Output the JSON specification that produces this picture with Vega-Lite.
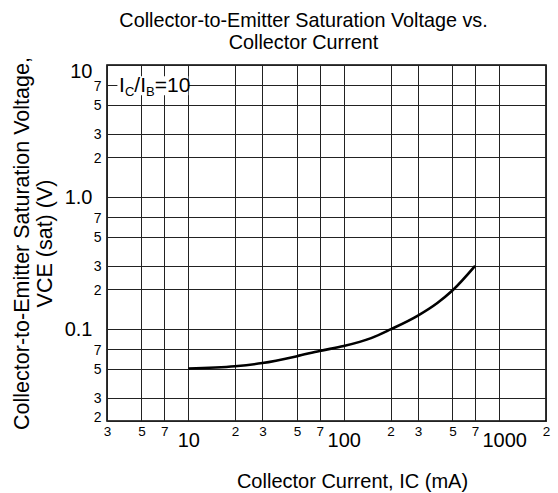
{
  "$schema": "https://vega.github.io/schema/vega-lite/v6.json",
  "autosize": {"type": "none"},
  "width": 439,
  "height": 356,
  "padding": {"left": 107, "top": 65, "right": 12, "bottom": 72},
  "background": "white",
  "title": {
    "text": ["Collector-to-Emitter Saturation Voltage vs.", "Collector Current"],
    "font": "Liberation Sans",
    "fontSize": 19.8,
    "fontWeight": "normal",
    "color": "#000",
    "lineHeight": 22,
    "baseline": "bottom",
    "offset": 11,
    "dx": -23,
    "dy": 27
  },
  "config": {
    "view": {"stroke": "#000", "strokeWidth": 1.6},
    "font": "Liberation Sans"
  },
  "datasets": {
    "curve": [
      {"ic": 10, "vce": 0.050},
      {"ic": 20, "vce": 0.052},
      {"ic": 30, "vce": 0.055},
      {"ic": 50, "vce": 0.062},
      {"ic": 70, "vce": 0.068},
      {"ic": 100, "vce": 0.074},
      {"ic": 150, "vce": 0.085},
      {"ic": 200, "vce": 0.099},
      {"ic": 300, "vce": 0.126},
      {"ic": 400, "vce": 0.157},
      {"ic": 500, "vce": 0.195},
      {"ic": 700, "vce": 0.30}
    ],
    "label": [{"ic": 3.58, "vce": 6.2}],
    "box": [{"ic1": 3.5, "ic2": 10, "v1": 5.9, "v2": 8.2}]
  },
  "layer": [
    {
      "data": {"name": "curve"},
      "mark": {"type": "line", "color": "#000", "strokeWidth": 2.6, "interpolate": "monotone", "clip": true},
      "encoding": {
        "x": {
          "field": "ic", "type": "quantitative",
          "scale": {"type": "log", "domain": [3, 2000], "nice": false},
          "axis": {
            "values": [3, 5, 7, 10, 20, 30, 50, 70, 100, 200, 300, 500, 700, 1000, 2000],
            "labelExpr": "(datum.value == 10 || datum.value == 100 || datum.value == 1000) ? format(datum.value, 'd') : substring(format(datum.value, 'd'), 0, 1)",
            "labelFont": "Liberation Sans",
            "labelColor": "#000",
            "labelFontSize": {"condition": {"test": "datum.value != 10 && datum.value != 100 && datum.value != 1000", "value": 13.5}, "value": 20},
            "labelPadding": {"condition": {"test": "datum.value == 10 || datum.value == 100 || datum.value == 1000", "value": 9}, "value": 3},
            "labelOffset": {"condition": {"test": "datum.value == 1000", "value": 5}, "value": 0},
            "labelOverlap": false,
            "labelFlush": false,
            "ticks": false,
            "domain": false,
            "grid": true,
            "gridColor": "#222",
            "gridWidth": 1,
            "gridOpacity": 1,
            "title": "Collector Current, IC (mA)",
            "titleFont": "Liberation Sans",
            "titleFontSize": 20,
            "titleFontWeight": "normal",
            "titleColor": "#000",
            "titleX": 245,
            "titleY": 66,
            "titleAlign": "center",
            "titleBaseline": "alphabetic"
          }
        },
        "y": {
          "field": "vce", "type": "quantitative",
          "scale": {"type": "log", "domain": [0.02, 10], "nice": false},
          "axis": {
            "values": [0.02, 0.03, 0.05, 0.07, 0.1, 0.2, 0.3, 0.5, 0.7, 1, 2, 3, 5, 7, 10],
            "labelExpr": "datum.value == 10 ? '10' : datum.value == 1 ? '1.0' : datum.value == 0.1 ? '0.1' : format(datum.value / pow(10, floor(log(datum.value) / LN10 + 1e-9)), '.0f')",
            "labelFont": "Liberation Sans",
            "labelColor": "#000",
            "labelFontSize": {"condition": {"test": "datum.value != 10 && datum.value != 1 && datum.value != 0.1", "value": 14}, "value": 20},
            "labelPadding": {"condition": {"test": "datum.value == 10 || datum.value == 1 || datum.value == 0.1", "value": 15}, "value": 6},
            "labelOffset": {"condition": [{"test": "datum.value == 10", "value": 6}, {"test": "datum.value < 0.025", "value": -4}], "value": 1},
            "labelOverlap": false,
            "labelFlush": false,
            "ticks": false,
            "domain": false,
            "grid": true,
            "gridColor": "#222",
            "gridWidth": 1,
            "gridOpacity": 1,
            "title": ["Collector-to-Emitter Saturation Voltage,", "VCE (sat) (V)"],
            "titleFont": "Liberation Sans",
            "titleFontSize": 21.5,
            "titleFontWeight": "normal",
            "titleColor": "#000",
            "titleAngle": -90,
            "titleX": -79,
            "titleY": 178,
            "titleAlign": "center",
            "titleBaseline": "alphabetic",
            "titleLineHeight": 23
          }
        }
      }
    },
    {
      "data": {"name": "box"},
      "mark": {"type": "rect", "fill": "white", "stroke": null},
      "encoding": {
        "x": {"field": "ic1", "type": "quantitative"},
        "x2": {"field": "ic2"},
        "y": {"field": "v1", "type": "quantitative"},
        "y2": {"field": "v2"}
      }
    },
    {
      "data": {"name": "label"},
      "mark": {"type": "text", "text": "I", "font": "Liberation Sans", "fontSize": 21, "align": "left", "baseline": "alphabetic", "color": "#000", "dx": 0},
      "encoding": {"x": {"field": "ic", "type": "quantitative"}, "y": {"field": "vce", "type": "quantitative"}}
    },
    {
      "data": {"name": "label"},
      "mark": {"type": "text", "text": "C", "font": "Liberation Sans", "fontSize": 13, "align": "left", "baseline": "alphabetic", "color": "#000", "dx": 6, "dy": 4},
      "encoding": {"x": {"field": "ic", "type": "quantitative"}, "y": {"field": "vce", "type": "quantitative"}}
    },
    {
      "data": {"name": "label"},
      "mark": {"type": "text", "text": "/I", "font": "Liberation Sans", "fontSize": 21, "align": "left", "baseline": "alphabetic", "color": "#000", "dx": 15.4},
      "encoding": {"x": {"field": "ic", "type": "quantitative"}, "y": {"field": "vce", "type": "quantitative"}}
    },
    {
      "data": {"name": "label"},
      "mark": {"type": "text", "text": "B", "font": "Liberation Sans", "fontSize": 13, "align": "left", "baseline": "alphabetic", "color": "#000", "dx": 27.1, "dy": 4},
      "encoding": {"x": {"field": "ic", "type": "quantitative"}, "y": {"field": "vce", "type": "quantitative"}}
    },
    {
      "data": {"name": "label"},
      "mark": {"type": "text", "text": "=10", "font": "Liberation Sans", "fontSize": 21, "align": "left", "baseline": "alphabetic", "color": "#000", "dx": 35.8},
      "encoding": {"x": {"field": "ic", "type": "quantitative"}, "y": {"field": "vce", "type": "quantitative"}}
    }
  ]
}
